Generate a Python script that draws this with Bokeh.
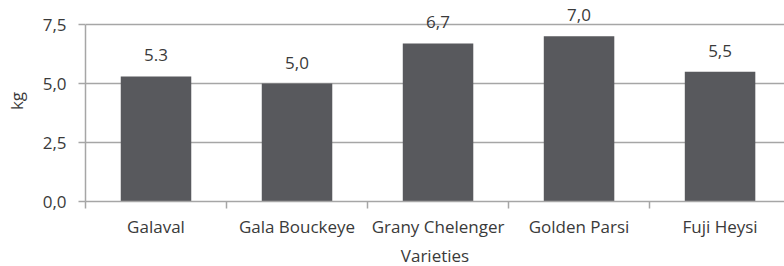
import numpy as np
from bokeh.plotting import figure
from bokeh.models import Range1d, FixedTicker, ColumnDataSource
from bokeh.core.properties import value
from bokeh.embed import file_html
from bokeh.resources import INLINE

categories = ["Galaval", "Gala Bouckeye", "Grany Chelenger", "Golden Parsi", "Fuji Heysi"]
values = [5.3, 5.0, 6.7, 7.0, 5.5]
value_labels = ["5.3", "5,0", "6,7", "7,0", "5,5"]
y_ticks = [0.0, 2.5, 5.0, 7.5]
y_tick_labels = ["0,0", "2,5", "5,0", "7,5"]

FONT = "Open Sans"
FS = "17px"
TXT = "#3a3a3a"
BAR = "#58595d"
GRID = "#a6a6a6"

n = len(categories)
centers = list(np.arange(n) + 0.5)
bounds = list(np.arange(n + 1).astype(float))

src = ColumnDataSource(dict(x=centers, top=values, lab=value_labels))

p = figure(frame_width=699, frame_height=201,
           x_range=Range1d(0, 4.957), y_range=Range1d(0, 8.52),
           output_backend="svg", toolbar_location=None,
           min_border_left=85, min_border_right=0, min_border_top=0, min_border_bottom=65,
           background_fill_color="white", border_fill_color="white")
p.outline_line_color = None

p.vbar(x="x", top="top", width=0.5, source=src, fill_color=BAR, line_color=None)
p.text(x="x", y="top", text="lab", source=src, text_align="center", text_baseline="alphabetic",
       y_offset=-21, text_font=value(FONT), text_font_size=FS, text_color=TXT)

# y axis
p.yaxis.ticker = FixedTicker(ticks=y_ticks)
p.yaxis.bounds = (0, 7.5)
p.yaxis.major_label_overrides = {t: l for t, l in zip(y_ticks, y_tick_labels)}
p.yaxis.minor_tick_line_color = None
p.yaxis.major_tick_in = 0
p.yaxis.major_tick_out = 7
p.yaxis.major_label_standoff = 12
p.yaxis.axis_line_color = GRID
p.yaxis.axis_line_width = 1.5
p.yaxis.major_tick_line_color = GRID
p.yaxis.major_tick_line_width = 1.5
p.yaxis.axis_label = "kg"
p.yaxis.axis_label_standoff = 12
p.yaxis.axis_label_text_font_style = "normal"

# x axis
p.xaxis.ticker = FixedTicker(ticks=centers, minor_ticks=bounds)
p.xaxis.major_label_overrides = {c: l for c, l in zip(centers, categories)}
p.xaxis.major_tick_line_color = None
p.xaxis.major_tick_in = 0
p.xaxis.major_tick_out = 7
p.xaxis.minor_tick_in = 0
p.xaxis.minor_tick_out = 7
p.xaxis.minor_tick_line_color = GRID
p.xaxis.minor_tick_line_width = 1.5
p.xaxis.major_label_standoff = 6
p.xaxis.axis_line_color = GRID
p.xaxis.axis_line_width = 1.5
p.xaxis.axis_label = "Varieties"
p.xaxis.axis_label_standoff = 3
p.xaxis.axis_label_text_font_style = "normal"

for ax in (p.xaxis[0], p.yaxis[0]):
    ax.major_label_text_font = FONT
    ax.major_label_text_font_size = FS
    ax.major_label_text_color = TXT
    ax.axis_label_text_font = FONT
    ax.axis_label_text_font_size = FS
    ax.axis_label_text_color = TXT

p.xgrid.grid_line_color = None
p.ygrid.ticker = FixedTicker(ticks=y_ticks)
p.ygrid.grid_line_color = GRID
p.ygrid.grid_line_width = 1.5

open("out.html", "w").write(file_html(p, INLINE))
